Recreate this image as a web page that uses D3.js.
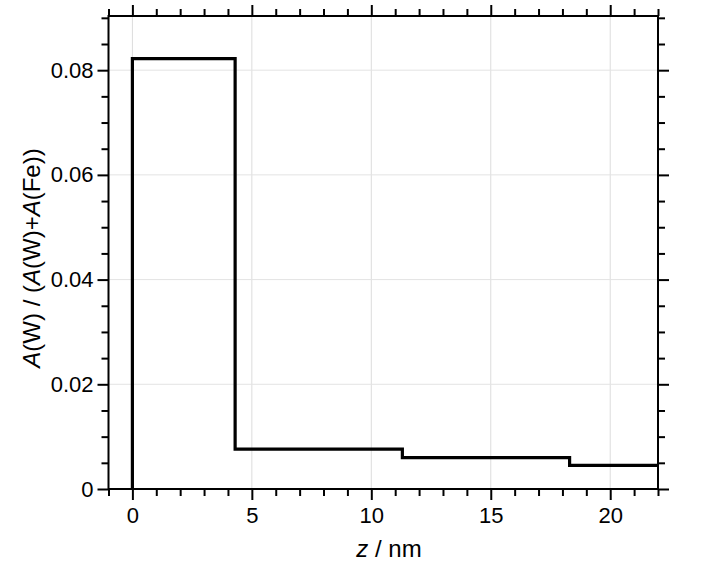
<!DOCTYPE html>
<html>
<head>
<meta charset="utf-8">
<script src="https://cdn.jsdelivr.net/npm/d3@7"></script>
<style>
    body { margin: 0; background: #fff; }
    svg { display: block; font-family: "Liberation Sans", Arial, sans-serif; }
</style>
</head>
<body>
<svg id="chart" width="707" height="566"></svg>
<script>
// step profile: layer edges (nm) and the value within each layer
var stepEdges = [0, 4.3, 11.3, 18.3, 22];
var stepValues = [0.0822, 0.0076, 0.0060, 0.0045];

var xMajorTicks = [0, 5, 10, 15, 20];
var xMinorTicks = [-1, 1, 2, 3, 4, 6, 7, 8, 9, 11, 12, 13, 14, 16, 17, 18, 19, 21, 22];
var yMajorTicks = [0, 0.02, 0.04, 0.06, 0.08];
var yMinorTicks = [0.005, 0.01, 0.015, 0.025, 0.03, 0.035, 0.045, 0.05, 0.055, 0.065, 0.07, 0.075, 0.085, 0.09];
var yTickLabels = ["0", "0.02", "0.04", "0.06", "0.08"];

(function() {

    var plotLeft = 108.5, plotRight = 658, plotTop = 16, plotBottom = 489;
    var majorLen = 11, minorLen = 7;

    var svg = d3.select("#chart");

    var xScale = d3.scaleLinear()
        .domain([-1, 22])
        .range([plotLeft, plotRight]);

    var yScale = d3.scaleLinear()
        .domain([0, 0.09035])
        .range([plotBottom, plotTop]);

    // grid
    var grid = svg.append("g").attr("class", "grid");

    grid.selectAll("line.gx")
        .data(xMajorTicks)
        .enter()
        .append("line")
        .attr("class", "gx")
        .attr("x1", function(d) { return xScale(d); })
        .attr("x2", function(d) { return xScale(d); })
        .attr("y1", plotTop)
        .attr("y2", plotBottom)
        .style("stroke", "#dcdcdc")
        .style("stroke-width", 1);

    grid.selectAll("line.gy")
        .data(yMajorTicks)
        .enter()
        .append("line")
        .attr("class", "gy")
        .attr("x1", plotLeft)
        .attr("x2", plotRight)
        .attr("y1", function(d) { return yScale(d); })
        .attr("y2", function(d) { return yScale(d); })
        .style("stroke", "#e3e3e3")
        .style("stroke-width", 1);

    // step line
    var pts = [[0, 0]];
    stepValues.forEach(function(v, i) {
        pts.push([stepEdges[i], v]);
    });
    pts.push([stepEdges[stepEdges.length - 1], stepValues[stepValues.length - 1]]);

    var line = d3.line()
        .x(function(d) { return xScale(d[0]); })
        .y(function(d) { return yScale(d[1]); })
        .curve(d3.curveStepAfter);

    svg.append("path")
        .datum(pts)
        .attr("d", line)
        .style("fill", "none")
        .style("stroke", "#000")
        .style("stroke-width", 3.2)
        .style("stroke-linejoin", "miter");

    // axes: major with labels, minor without
    function styleAxis(g) {
        g.select(".domain").remove();
        g.selectAll(".tick line").style("stroke", "#000").style("stroke-width", 2);
        g.selectAll(".tick text")
            .style("font-size", "22px")
            .style("fill", "#000")
            .style("font-family", "'Liberation Sans', Arial, sans-serif");
    }

    function addAxis(axisFn, scale, majors, minors, transform, labels) {
        var major = axisFn(scale).tickValues(majors).tickSizeOuter(0).tickSize(majorLen);
        if (labels) {
            major.tickPadding(labels.pad).tickFormat(labels.fmt);
        } else {
            major.tickFormat("");
        }
        svg.append("g")
            .attr("transform", transform)
            .call(major)
            .call(styleAxis);

        svg.append("g")
            .attr("transform", transform)
            .call(axisFn(scale).tickValues(minors).tickSizeOuter(0).tickSize(minorLen).tickFormat(""))
            .call(styleAxis);
    }

    addAxis(d3.axisBottom, xScale, xMajorTicks, xMinorTicks, "translate(0," + plotBottom + ")",
        { pad: 7, fmt: d3.format("d") });
    addAxis(d3.axisTop, xScale, xMajorTicks, xMinorTicks, "translate(0," + plotTop + ")", null);
    addAxis(d3.axisLeft, yScale, yMajorTicks, yMinorTicks, "translate(" + plotLeft + ",0)",
        { pad: 4, fmt: function(d, i) { return yTickLabels[i]; } });
    addAxis(d3.axisRight, yScale, yMajorTicks, yMinorTicks, "translate(" + plotRight + ",0)", null);

    // frame
    svg.append("rect")
        .attr("x", plotLeft)
        .attr("y", plotTop)
        .attr("width", plotRight - plotLeft)
        .attr("height", plotBottom - plotTop)
        .style("fill", "none")
        .style("stroke", "#000")
        .style("stroke-width", 2);

    // axis titles
    var xt = svg.append("text")
        .attr("x", 389)
        .attr("y", 557)
        .attr("text-anchor", "middle")
        .style("font-size", "24px");
    xt.append("tspan").style("font-style", "italic").text("z");
    xt.append("tspan").text(" / nm");

    var yt = svg.append("text")
        .attr("transform", "translate(40,258) rotate(-90)")
        .attr("text-anchor", "middle")
        .style("font-size", "24px");
    yt.append("tspan").style("font-style", "italic").text("A");
    yt.append("tspan").text("(W) / (");
    yt.append("tspan").style("font-style", "italic").text("A");
    yt.append("tspan").text("(W)+");
    yt.append("tspan").style("font-style", "italic").text("A");
    yt.append("tspan").text("(Fe))");

})();
</script>
</body>
</html>
